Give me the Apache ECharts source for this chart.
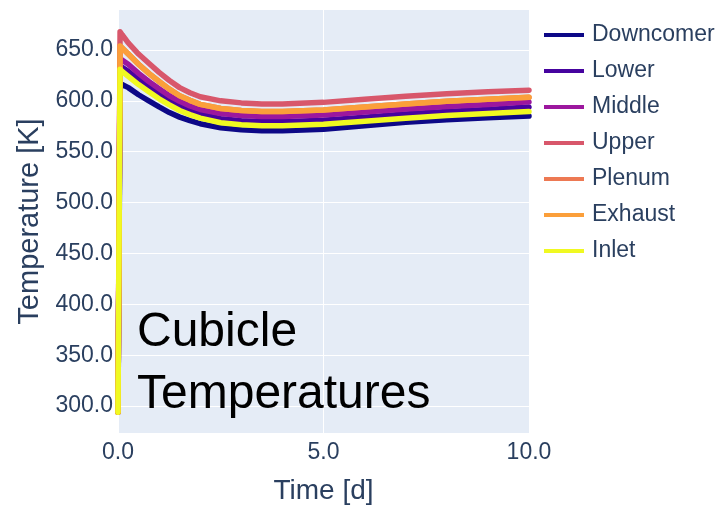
<!DOCTYPE html>
<html>
<head>
<meta charset="utf-8">
<script src="https://cdn.jsdelivr.net/npm/echarts@6/dist/echarts.min.js"></script>
<style>
  html, body { margin: 0; padding: 0; background: #fff; }
  #chart { width: 724px; height: 506px; }
</style>
</head>
<body>
<div id="chart"></div>
<script>
// time [d]
var times = [0, 0.05, 0.1, 0.25, 0.5, 0.75, 1, 1.25, 1.5, 1.75, 2, 2.5, 3, 3.5, 4, 5, 6, 7, 8, 9, 10];
// temperatures [K]
var downcomer = [294, 612, 616, 613, 606, 600, 594, 588.5, 584, 580.5, 577.5, 573.5, 571.5, 570.5, 570.5, 572, 575.5, 579, 581.5, 583.5, 585];
var lower = [294, 634, 633, 629, 621, 614, 607, 600.5, 595, 590.5, 587, 582.5, 580.5, 579.5, 579.5, 581, 584, 587, 589.5, 591.5, 594];
var middle = [294, 642, 640, 636, 627, 619, 612, 605, 599.5, 595, 591.5, 587.5, 585.5, 584.5, 584.5, 586, 589, 592, 594.5, 596.5, 599];
var upper = [294, 668, 665, 657, 646, 637, 628, 620, 613, 608, 604, 600, 598, 597, 597, 598.5, 601.5, 604.5, 607, 609, 610.5];
var plenum = [294, 654, 652, 646, 636, 627, 619, 611.5, 605, 600.5, 596.5, 592.5, 590.5, 589.5, 589.5, 591, 594, 597, 599.5, 601.5, 603.5];
var exhaust = [294, 654, 652, 646, 636, 627, 619, 611.5, 605, 600.5, 596.5, 592.5, 590.5, 589.5, 589.5, 591, 594, 597, 599.5, 601.5, 603.5];
var inlet = [294, 631, 629, 624, 616, 609, 602, 596, 590.5, 586.5, 583, 578.5, 576.5, 575.5, 575.5, 577, 580, 583, 585.5, 587.5, 589.5];

var yTicks = [300, 350, 400, 450, 500, 550, 600, 650];
var xTicks = [0, 5, 10];

var names = ['Downcomer', 'Lower', 'Middle', 'Upper', 'Plenum', 'Exhaust', 'Inlet'];
var values = [downcomer, lower, middle, upper, plenum, exhaust, inlet];
var colors = ['#0d0887', '#46039f', '#9c179e', '#d8576b', '#ed7953', '#fb9f3a', '#f0f921'];

var font = 'Liberation Sans, Arial, sans-serif';
var txt = '#2a3f5f';

var series = names.map(function (n, i) {
  return {
    name: n,
    type: 'line',
    showSymbol: false,
    symbol: 'none',
    color: colors[i],
    lineStyle: { width: 5.5, color: colors[i], join: 'round', cap: 'round' },
    data: times.map(function (t, j) { return [t, values[i][j]]; })
  };
});

var myChart = echarts.init(document.getElementById('chart'));
var option = {
  backgroundColor: '#fff',
  animation: false,
  grid: {
    left: 118, right: 195, top: 10, bottom: 73,
    outerBoundsMode: 'none',
    containLabel: false,
    show: true, backgroundColor: '#e5ecf6', borderWidth: 0
  },
  legend: {
    orient: 'vertical',
    left: 544, top: 23,
    padding: 0,
    icon: 'rect',
    itemWidth: 40, itemHeight: 4,
    itemGap: 12,
    textStyle: { fontFamily: font, fontSize: 23, color: txt, lineHeight: 24, padding: [0, 0, 0, 3] },
    data: names
  },
  xAxis: {
    type: 'value',
    min: 0, max: 10,
    name: 'Time [d]',
    nameLocation: 'middle',
    nameGap: 44,
    nameTextStyle: { fontFamily: font, fontSize: 28, color: txt },
    axisLine: { show: false },
    axisTick: { show: false, customValues: xTicks },
    axisLabel: {
      customValues: xTicks,
      margin: 8,
      fontFamily: font, fontSize: 23, color: txt,
      formatter: function (v) { return v.toFixed(1); }
    },
    splitLine: { show: true, lineStyle: { color: '#fff', width: 1 } }
  },
  yAxis: {
    type: 'value',
    min: 273.5, max: 689.3,
    name: 'Temperature [K]',
    nameLocation: 'middle',
    nameGap: 65,
    nameTextStyle: { fontFamily: font, fontSize: 29, color: txt },
    axisLine: { show: false },
    axisTick: { show: false, customValues: yTicks },
    axisLabel: {
      customValues: yTicks,
      margin: 5,
      fontFamily: font, fontSize: 23, color: txt,
      formatter: function (v) { return v.toFixed(1); }
    },
    splitLine: { show: true, lineStyle: { color: '#fff', width: 1 } }
  },
  graphic: [{
    type: 'text',
    left: 137, top: 302,
    z: 100,
    style: {
      text: 'Cubicle\nTemperatures',
      font: '48px Liberation Sans, Arial, sans-serif',
      lineHeight: 62,
      fill: '#000'
    }
  }],
  series: series
};
myChart.setOption(option);
window.addEventListener('resize', function () { myChart.resize(); });
</script>
</body>
</html>
